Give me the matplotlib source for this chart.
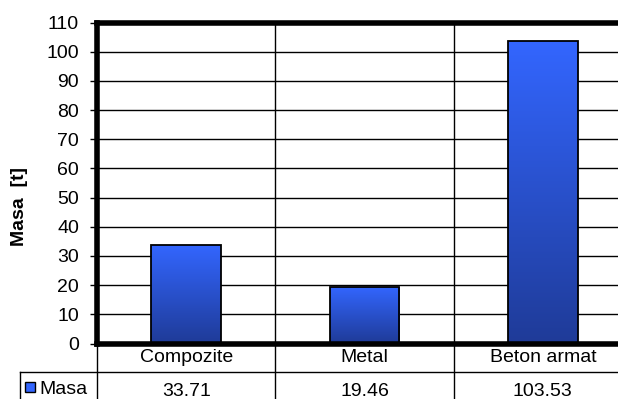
import matplotlib.pyplot as plt
import numpy as np
from matplotlib.colors import LinearSegmentedColormap
from matplotlib.lines import Line2D
from matplotlib.patches import Rectangle

plt.rcParams['font.family'] = ['Liberation Sans', 'DejaVu Sans']

categories = ['Compozite', 'Metal', 'Beton armat']
masa = [33.71, 19.46, 103.53]
series_name = 'Masa'
y_ticks = list(range(0, 111, 10))

W, H = 618, 399
fig = plt.figure(figsize=(W / 100, H / 100), dpi=100)

# plot area in pixels (right edge runs past the picture, like the original)
x0, x1 = 97, 632
y_top, y_bot = 22.5, 343.5
ax = fig.add_axes([x0 / W, 1 - y_bot / H, (x1 - x0) / W, (y_bot - y_top) / H])

cmap = LinearSegmentedColormap.from_list('blu', ['#1f3b98', '#3366ff'])
grad = np.linspace(0, 1, 256).reshape(-1, 1)
bars = ax.bar(np.arange(len(categories)) + 0.5, masa, width=0.392,
              facecolor='none', edgecolor='black', linewidth=1.3, zorder=3)
for b in bars:
    bx, by = b.get_x(), b.get_y()
    im = ax.imshow(grad, cmap=cmap, origin='lower', aspect='auto',
                   extent=(bx, bx + b.get_width(), by, by + b.get_height()),
                   zorder=2)
    im.set_clip_path(b)
ax.set_xlim(0, len(categories))
ax.set_ylim(0, 110)

fs = 14
ax.set_yticks(y_ticks)
ax.set_yticklabels([str(t) for t in y_ticks], fontsize=fs)
ax.set_xticks([])
ax.tick_params(axis='y', length=5, width=1, direction='out', pad=8)
ax.grid(axis='y', color='black', linewidth=1)
for i in range(1, len(categories)):
    ax.axvline(i, color='black', linewidth=1)
ax.set_axisbelow(True)
for s in ['top', 'left', 'bottom']:
    ax.spines[s].set_linewidth(4)
ax.spines['right'].set_visible(False)

ax.set_ylabel('Masa  [t]', fontsize=14, fontweight='bold')
ax.yaxis.set_label_coords(-0.129, 0.428)

# data table under the chart
def fx(px):
    return px / W

def fy(py):
    return 1 - py / H

row1, row2, row3 = 343.5, 372, 400
legend_x = 20
bounds = [x0 + (x1 - x0) * i / len(categories) for i in range(len(categories) + 1)]
lines = [
    ((legend_x, x1), (row2, row2)),
    ((legend_x, legend_x), (row2, row3)),
]
for bx in bounds[:-1]:
    lines.append(((bx, bx), (row1, row3)))
for (xs, ys) in lines:
    fig.add_artist(Line2D([fx(v) for v in xs], [fy(v) for v in ys],
                          color='black', linewidth=1))

for i, (cat, val) in enumerate(zip(categories, masa)):
    cx = (bounds[i] + bounds[i + 1]) / 2
    fig.text(fx(cx), fy(358), cat, ha='center', va='center', fontsize=fs)
    fig.text(fx(cx), fy(391), f'{val:.2f}', ha='center', va='center', fontsize=fs)

fig.add_artist(Rectangle((fx(25), fy(392)), 10 / W, 10 / H,
                         facecolor='#3366ff', edgecolor='black', linewidth=1))
fig.text(fx(39), fy(390), series_name, ha='left', va='center', fontsize=fs)

fig.savefig('out.png', dpi=100)
